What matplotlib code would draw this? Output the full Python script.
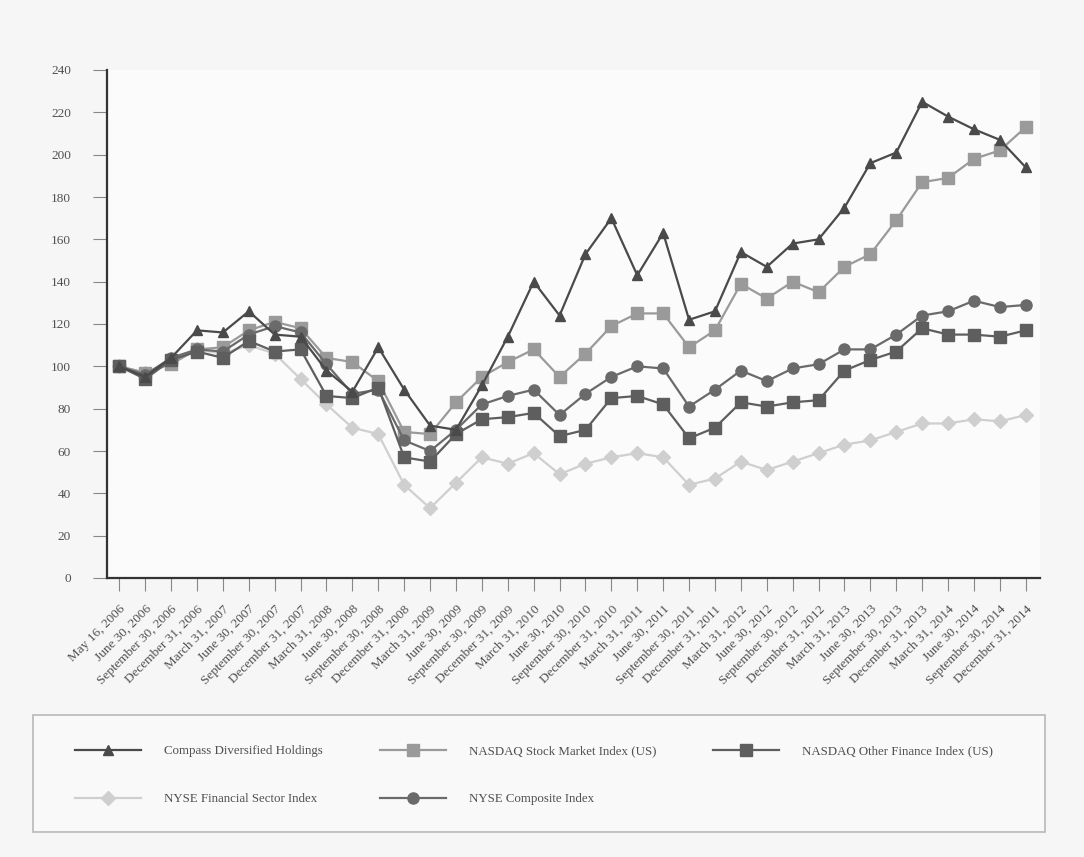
import numpy as np
import matplotlib
matplotlib.use("Agg")
import matplotlib.pyplot as plt
from matplotlib.patches import Rectangle

# quarter-end dates (first point is the IPO date)
dates = ["May 16, 2006", "June 30, 2006", "September 30, 2006", "December 31, 2006"]
for yr in range(2007, 2015):
    dates += ["March 31, %d" % yr, "June 30, %d" % yr,
              "September 30, %d" % yr, "December 31, %d" % yr]

compass = [100, 95, 104, 117, 116, 126, 115, 114, 98, 88, 109, 89, 72, 70, 91, 114, 140, 124,
           153, 170, 143, 163, 122, 126, 154, 147, 158, 160, 175, 196, 201, 225, 218, 212, 207, 194]
nasdaq = [100, 97, 101, 108, 109, 117, 121, 118, 104, 102, 93, 69, 68, 83, 95, 102, 108, 95,
          106, 119, 125, 125, 109, 117, 139, 132, 140, 135, 147, 153, 169, 187, 189, 198, 202, 213]
nasdaq_fin = [100, 94, 103, 107, 104, 112, 107, 108, 86, 85, 90, 57, 55, 68, 75, 76, 78, 67,
              70, 85, 86, 82, 66, 71, 83, 81, 83, 84, 98, 103, 107, 118, 115, 115, 114, 117]
nyse_fin = [100, 97, 102, 108, 106, 110, 106, 94, 82, 71, 68, 44, 33, 45, 57, 54, 59, 49,
            54, 57, 59, 57, 44, 47, 55, 51, 55, 59, 63, 65, 69, 73, 73, 75, 74, 77]
nyse_comp = [100, 96, 104, 108, 107, 115, 119, 116, 101, 87, 89, 65, 60, 70, 82, 86, 89, 77,
             87, 95, 100, 99, 81, 89, 98, 93, 99, 101, 108, 108, 115, 124, 126, 131, 128, 129]

plt.rcParams['font.family'] = ['Liberation Serif', 'DejaVu Serif']

W, H = 1084, 857
fig = plt.figure(figsize=(W / 100, H / 100), dpi=100, facecolor="#f6f6f6")
ax = fig.add_axes([107 / W, 1 - 578 / H, (1040 - 107) / W, (578 - 70) / H])
ax.set_facecolor("#fbfbfb")

x = np.arange(len(dates))
lw = 1.6
h_nyse_fin, = ax.plot(x, nyse_fin, color="#cfcfcf", lw=lw, marker="D", ms=7, mec="#cfcfcf",
                      label="NYSE Financial Sector Index")
h_nasdaq, = ax.plot(x, nasdaq, color="#9a9a9a", lw=lw, marker="s", ms=8, mec="#9a9a9a",
                    label="NASDAQ Stock Market Index (US)")
h_comp, = ax.plot(x, nyse_comp, color="#6a6a6a", lw=lw, marker="o", ms=8, mec="#6a6a6a",
                  label="NYSE Composite Index")
h_fin, = ax.plot(x, nasdaq_fin, color="#5e5e5e", lw=lw, marker="s", ms=8, mec="#5e5e5e",
                 label="NASDAQ Other Finance Index (US)")
h_cod, = ax.plot(x, compass, color="#4a4a4a", lw=lw, marker="^", ms=7, mec="#4a4a4a",
                 label="Compass Diversified Holdings")

ax.set_ylim(0, 240)
ax.set_yticks(range(0, 241, 20))
ax.set_xlim(-0.475, 35.55)
ax.set_xticks(x)
ax.set_xticklabels(dates, rotation=45, ha="right", rotation_mode="anchor", color="#505050")
for lab in ax.get_yticklabels():
    lab.set_color("#505050")
ax.tick_params(axis="both", labelsize=9.5, width=0.8, color="#888888")
ax.tick_params(axis="y", length=10, pad=16)
ax.tick_params(axis="x", length=9, pad=9)

for side in ["top", "right"]:
    ax.spines[side].set_visible(False)
for side in ["left", "bottom"]:
    ax.spines[side].set_linewidth(1.6)
    ax.spines[side].set_color("#333333")

# legend frame drawn separately so it spans the full width
fig.patches.append(Rectangle((33 / W, 1 - 832 / H), (1045 - 33) / W, (832 - 715) / H,
                             transform=fig.transFigure, facecolor="#f9f9f9",
                             edgecolor="#b8b8b8", lw=1.2, zorder=0))

handles = [h_cod, h_nyse_fin, h_nasdaq, h_comp, h_fin]
leg = fig.legend(handles=handles, labels=[h.get_label() for h in handles],
                 ncol=3, loc="upper left", bbox_to_anchor=(75 / W, 1 - 745 / H),
                 fontsize=9.3, handlelength=5.1, handletextpad=1.8,
                 labelspacing=2.8, columnspacing=4.4, borderpad=0, borderaxespad=0,
                 frameon=False)
for t in leg.get_texts():
    t.set_color("#505050")

fig.savefig("out.png", dpi=100, facecolor=fig.get_facecolor())
